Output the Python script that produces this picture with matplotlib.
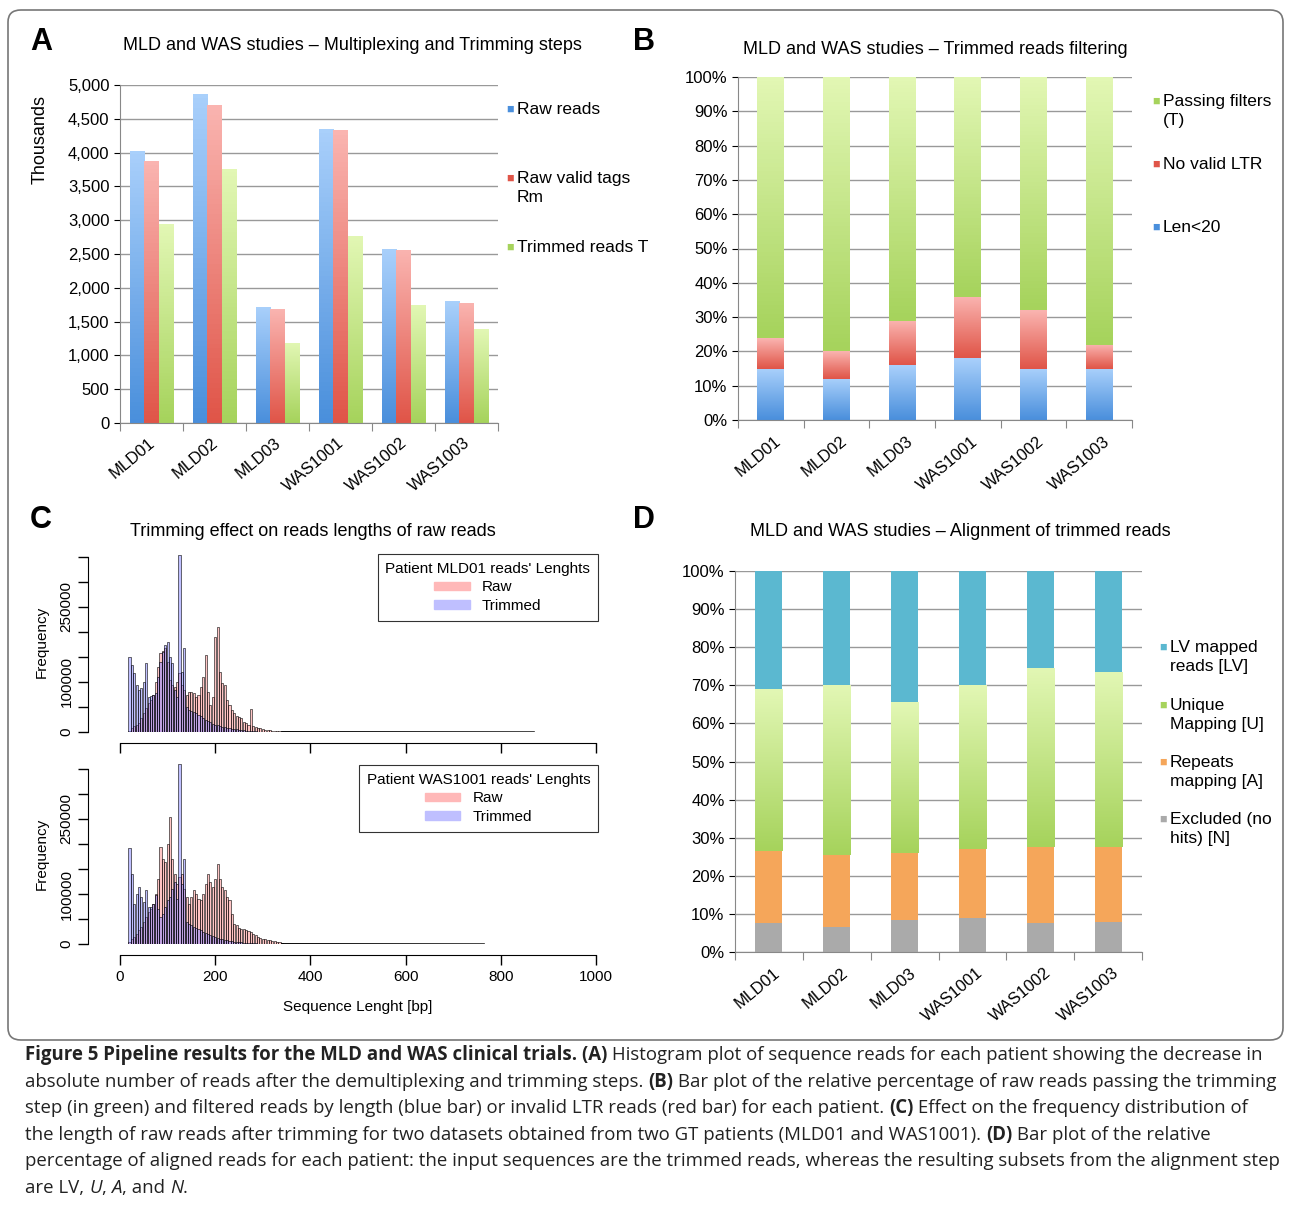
import numpy as np
import matplotlib
matplotlib.use("Agg")
import matplotlib.pyplot as plt
from matplotlib.patches import FancyBboxPatch, Patch
from matplotlib.colors import LinearSegmentedColormap

plt.rcParams["font.family"] = ["Liberation Sans", "DejaVu Sans"]
plt.rcParams["font.size"] = 11

W, H = 1290, 1205
PATIENTS = ["MLD01", "MLD02", "MLD03", "WAS1001", "WAS1002", "WAS1003"]

# Panel A (thousands)
raw_reads = [4030, 4870, 1720, 4350, 2580, 1800]
raw_valid = [3870, 4700, 1680, 4330, 2560, 1780]
trimmed_reads = [2940, 3760, 1190, 2770, 1750, 1390]

# Panel B (%)
len_lt20 = [15, 12, 16, 18, 15, 15]
no_valid_ltr = [9, 8, 13, 18, 17, 7]
passing = [100 - a - b for a, b in zip(len_lt20, no_valid_ltr)]

# Panel D (%)
excluded = [7.5, 6.5, 8.5, 9, 7.5, 8]
repeats = [19, 19, 17.5, 18, 20, 19.5]
unique = [42.5, 44.5, 39.5, 43, 47, 46]
lv_mapped = [100 - a - b - c for a, b, c in zip(excluded, repeats, unique)]

# Panel C histograms: bin centres (bp) and counts (thousands)
lengths = list(range(20, 345, 5))
mld_trim = [150, 135, 118, 95, 85, 88, 100, 139, 71, 73, 75, 78, 110, 140, 161, 175, 181, 150, 138, 85,
            70, 353, 120, 168, 50, 45, 42, 40, 38, 35, 32, 28, 25, 22, 20, 17, 15, 14, 12, 11,
            10, 9, 8, 7, 7, 6, 5, 4, 4, 3, 3, 2, 2, 2, 1, 1, 1, 1, 1, 1, 1, 0.5, 0.5, 0.5, 0.5]
mld_raw = [3, 8, 12, 15, 18, 28, 38, 48, 58, 65, 75, 100, 131, 158, 162, 168, 140, 105, 95, 91,
           100, 118, 95, 85, 75, 80, 81, 78, 71, 75, 90, 110, 155, 80, 55, 70, 191, 210, 120, 98,
           95, 65, 55, 45, 38, 33, 31, 28, 21, 18, 15, 46, 12, 11, 9, 8, 6, 5, 4, 4, 3, 3, 2, 2, 1]
was_trim = [193, 141, 81, 100, 115, 95, 85, 108, 75, 75, 80, 98, 70, 55, 60, 75, 88, 95, 110, 125,
            90, 361, 120, 171, 45, 41, 38, 35, 32, 30, 28, 25, 22, 20, 18, 16, 14, 12, 11, 10,
            9, 8, 7, 6, 5, 5, 4, 4, 3, 3, 2, 2, 2, 2, 1, 1, 1, 1, 1, 1, 1, 0.5, 0.5, 0.5, 0.5]
was_raw = [5, 10, 15, 20, 28, 35, 45, 55, 65, 70, 80, 100, 130, 195, 170, 165, 200, 255, 170, 141,
           120, 135, 141, 110, 95, 81, 95, 108, 100, 90, 88, 100, 120, 141, 125, 115, 130, 160, 130, 115,
           108, 95, 88, 60, 41, 38, 33, 31, 30, 28, 26, 24, 20, 18, 15, 13, 11, 10, 9, 8, 7, 6, 5, 4, 3]
tail_end = {"MLD01": 870, "WAS1001": 765}

# gradient colours (bottom, top)
G_BLUE = ("#4a8fdc", "#a9d0fb")
G_RED = ("#e05548", "#fab4b0")
G_GREEN = ("#a6d35c", "#e2f7b4")
C_LV, C_ORANGE, C_GREY = "#5bb8d0", "#f5a65a", "#aaaaaa"

fig = plt.figure(figsize=(W / 100, H / 100), dpi=100)


def ax_px(l, t, r, b):
    return fig.add_axes([l / W, 1 - b / H, (r - l) / W, (b - t) / H])


def ftext(x, y, s, **kw):
    fig.text(x / W, 1 - y / H, s, **kw)


def grad_bars(ax, xs, heights, width, grad, bottoms=None):
    if bottoms is None:
        bottoms = [0] * len(xs)
    cmap = LinearSegmentedColormap.from_list("g", list(grad))
    bars = ax.bar(xs, heights, width, bottom=bottoms, color="none", ec="none")
    for b in bars:
        x0, y0 = b.get_x(), b.get_y()
        im = ax.imshow(np.linspace(0, 1, 64).reshape(-1, 1), cmap=cmap, origin="lower",
                       extent=[x0, x0 + b.get_width(), y0, y0 + b.get_height()],
                       aspect="auto", zorder=2)
        im.set_clip_path(b)
    return bars


def legend_items(x, ys, labels, colors, size=12):
    for y, lab, c in zip(ys, labels, colors):
        ftext(x - 1, y, "■", color=c, fontsize=9, va="top", ha="left")
        ftext(x + 10, y - 2, lab, fontsize=size, va="top", ha="left", linespacing=1.3)


def excel_style(ax):
    for s in ["top", "right"]:
        ax.spines[s].set_visible(False)
    ax.spines["left"].set_color("#888888")
    ax.spines["bottom"].set_color("#888888")
    ax.yaxis.grid(True, color="#999999", lw=1)
    ax.set_axisbelow(True)
    ax.tick_params(colors="black", labelsize=12, length=4)
    ax.tick_params(axis="x", length=6, color="#888888")


fig.patches.append(FancyBboxPatch((8 / W, 1 - 1040 / H), 1275 / W, 1030 / H,
                                  boxstyle="round,pad=0,rounding_size=0.01",
                                  transform=fig.transFigure, fill=False, ec="#777777", lw=1.2))

x = np.arange(len(PATIENTS))

# ---- Panel A
ax = ax_px(120, 85, 498, 423)
w = 0.23
grad_bars(ax, x - w, raw_reads, w, G_BLUE)
grad_bars(ax, x, raw_valid, w, G_RED)
grad_bars(ax, x + w, trimmed_reads, w, G_GREEN)
ax.set_xlim(-0.5, 5.5)
ax.set_ylim(0, 5000)
ax.set_yticks(range(0, 5001, 500))
ax.set_yticklabels([f"{v:,}" for v in range(0, 5001, 500)])
ax.set_xticks(np.arange(-0.5, 6, 1))
ax.set_xticklabels([])
for i, p in enumerate(PATIENTS):
    ax.text(i + 0.1, -180, p, rotation=40, ha="right", va="top", fontsize=12)
ax.set_ylabel("Thousands", fontsize=13)
ax.yaxis.set_label_coords(-0.19, 0.84)
excel_style(ax)
legend_items(507, [104, 173, 242], ["Raw reads", "Raw valid tags\nRm", "Trimmed reads T"],
             [G_BLUE[0], G_RED[0], G_GREEN[0]], 12.5)

# ---- Panel B
ax = ax_px(738, 77, 1132, 420)
bw = 0.41
grad_bars(ax, x, len_lt20, bw, G_BLUE)
grad_bars(ax, x, no_valid_ltr, bw, G_RED, len_lt20)
grad_bars(ax, x, passing, bw, G_GREEN, np.add(len_lt20, no_valid_ltr))
ax.set_xlim(-0.5, 5.5)
ax.set_ylim(0, 100)
ax.set_yticks(range(0, 101, 10))
ax.set_yticklabels([f"{v}%" for v in range(0, 101, 10)])
ax.set_xticks(np.arange(-0.5, 6, 1))
ax.set_xticklabels([])
for i, p in enumerate(PATIENTS):
    ax.text(i + 0.2, -4, p, rotation=40, ha="right", va="top", fontsize=12)
excel_style(ax)
legend_items(1153, [96, 159, 222], ["Passing filters\n(T)", "No valid LTR", "Len<20"],
             [G_GREEN[0], G_RED[0], G_BLUE[0]], 12.5)

# ---- Panel D
ax = ax_px(735, 571, 1142, 952)
b1 = np.array(excluded)
b2 = b1 + repeats
b3 = b2 + unique
ax.bar(x, excluded, 0.4, color=C_GREY)
ax.bar(x, repeats, 0.4, bottom=b1, color=C_ORANGE)
grad_bars(ax, x, unique, 0.4, G_GREEN, b2)
ax.bar(x, lv_mapped, 0.4, bottom=b3, color=C_LV)
ax.set_xlim(-0.5, 5.5)
ax.set_ylim(0, 100)
ax.set_yticks(range(0, 101, 10))
ax.set_yticklabels([f"{v}%" for v in range(0, 101, 10)])
ax.set_xticks(np.arange(-0.5, 6, 1))
ax.set_xticklabels([])
for i, p in enumerate(PATIENTS):
    ax.text(i + 0.2, -3.5, p, rotation=40, ha="right", va="top", fontsize=12)
excel_style(ax)
legend_items(1160, [642, 700, 757, 814],
             ["LV mapped\nreads [LV]", "Unique\nMapping [U]", "Repeats\nmapping [A]", "Excluded (no\nhits) [N]"],
             [C_LV, G_GREEN[0], C_ORANGE, C_GREY], 12.5)


# ---- Panel C
def hist_panel(top, base, ymax, raw, trim, name, show_x):
    ax = ax_px(120, top, 596, base)
    ax.set_xlim(0, 1000)
    ax.set_ylim(0, ymax)
    ax.bar(lengths, [v * 1000 for v in raw], 4.4, color=(1, 0.55, 0.55, 0.5), ec="black", lw=0.4)
    ax.bar(lengths, [v * 1000 for v in trim], 4.4, color=(0.45, 0.45, 1, 0.45), ec="black", lw=0.4)
    ax.plot([340, tail_end[name]], [500, 0], color="black", lw=1)
    for s in ["top", "right"]:
        ax.spines[s].set_visible(False)
    ax.spines["left"].set_position(("outward", 23))
    ax.spines["bottom"].set_position(("outward", 8))
    ax.spines["left"].set_bounds(0, 350000)
    ax.spines["bottom"].set_bounds(0, 1000)
    ax.set_yticks(range(0, 350001, 50000))
    ax.set_yticklabels(["0", "", "100000", "", "", "250000", "", ""], rotation=90, va="center", fontsize=11)
    ax.set_xticks(range(0, 1001, 200))
    if show_x:
        ax.set_xticklabels([str(v) for v in range(0, 1001, 200)], fontsize=11)
        ax.set_xlabel("Sequence Lenght [bp]", fontsize=11, labelpad=12)
    else:
        ax.set_xticklabels([])
    ax.tick_params(length=7, width=1)
    ax.set_ylabel("Frequency", fontsize=11, labelpad=8)
    handles = [Patch(color=(1, 0.72, 0.72)), Patch(color=(0.75, 0.75, 1))]
    leg = ax.legend(handles, ["Raw", "Trimmed"], title=f"Patient {name} reads' Lenghts",
                    loc="upper right", bbox_to_anchor=(1.02, 1.03), fontsize=11, title_fontsize=11,
                    fancybox=False, edgecolor="black", handlelength=2.3, handleheight=0.5,
                    borderpad=0.5, labelspacing=0.3, handletextpad=0.8)
    leg.get_frame().set_linewidth(0.8)


hist_panel(552, 732, 360000, mld_raw, mld_trim, "MLD01", False)
hist_panel(763, 944, 362000, was_raw, was_trim, "WAS1001", True)

# ---- Titles and letters
for lx, ly, l in [(30, 42, "A"), (633, 42, "B"), (30, 520, "C"), (633, 520, "D")]:
    ftext(lx, ly, l, fontsize=22, fontweight="bold", va="center")
ftext(352, 45, "MLD and WAS studies – Multiplexing and Trimming steps", fontsize=13, ha="center", va="center")
ftext(935, 50, "MLD and WAS studies – Trimmed reads filtering", fontsize=13, ha="center", va="center")
ftext(313, 531, "Trimming effect on reads lengths of raw reads", fontsize=13, ha="center", va="center")
ftext(960, 532, "MLD and WAS studies – Alignment of trimmed reads", fontsize=13, ha="center", va="center")

# ---- Caption
caption = [
    [("Figure 5 Pipeline results for the MLD and WAS clinical trials. (A)", "bold", "normal"),
     (" Histogram plot of sequence reads for each patient showing the decrease in", "normal", "normal")],
    [("absolute number of reads after the demultiplexing and trimming steps. ", "normal", "normal"),
     ("(B)", "bold", "normal"),
     (" Bar plot of the relative percentage of raw reads passing the trimming", "normal", "normal")],
    [("step (in green) and filtered reads by length (blue bar) or invalid LTR reads (red bar) for each patient. ", "normal", "normal"),
     ("(C)", "bold", "normal"), (" Effect on the frequency distribution of", "normal", "normal")],
    [("the length of raw reads after trimming for two datasets obtained from two GT patients (MLD01 and WAS1001). ", "normal", "normal"),
     ("(D)", "bold", "normal"), (" Bar plot of the relative", "normal", "normal")],
    [("percentage of aligned reads for each patient: the input sequences are the trimmed reads, whereas the resulting subsets from the alignment step", "normal", "normal")],
    [("are LV, ", "normal", "normal"), ("U", "normal", "italic"), (", ", "normal", "normal"),
     ("A", "normal", "italic"), (", and ", "normal", "normal"), ("N", "normal", "italic"), (".", "normal", "normal")],
]
renderer = fig.canvas.get_renderer()
for k, runs in enumerate(caption):
    xp = 25
    y = 1055 + k * 26.6
    for s, wt, st in runs:
        t = fig.text(xp / W, 1 - y / H, s, fontsize=13.4, fontweight=wt, fontstyle=st,
                     family=["Open Sans", "DejaVu Sans"], va="center", ha="left", color="#222222")
        xp += t.get_window_extent(renderer).width

fig.savefig("out.png", dpi=100)
